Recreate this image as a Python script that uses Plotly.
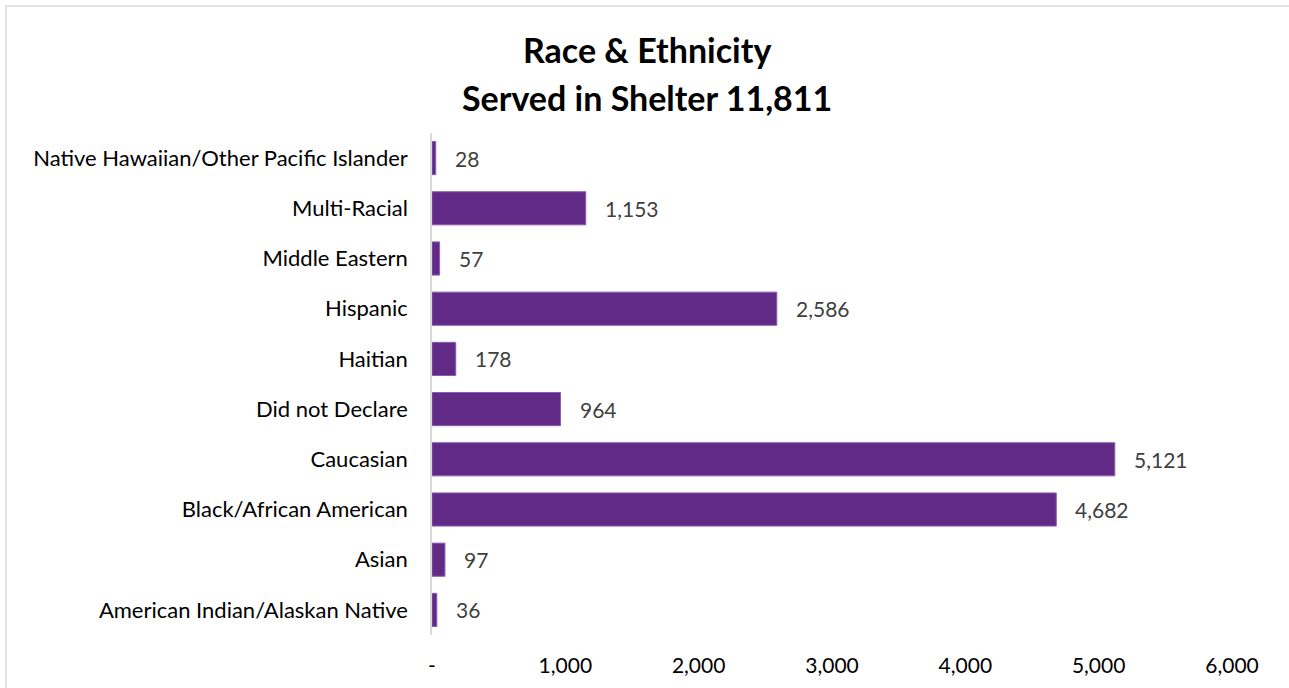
import plotly.graph_objects as go

categories = [
    "American Indian/Alaskan Native",
    "Asian",
    "Black/African American",
    "Caucasian",
    "Did not Declare",
    "Haitian",
    "Hispanic",
    "Middle Eastern",
    "Multi-Racial",
    "Native Hawaiian/Other Pacific Islander",
]
values = [36, 97, 4682, 5121, 964, 178, 2586, 57, 1153, 28]
tick_vals = [0, 1000, 2000, 3000, 4000, 5000, 6000]
tick_text = ["-", "1,000", "2,000", "3,000", "4,000", "5,000", "6,000"]
title_lines = ["Race & Ethnicity", "Served in Shelter 11,811"]

FONT = "Lato"
W, H = 1289, 688
L, R, T, B = 432, 57, 133, 53
pw, ph = W - L - R, H - T - B

def px_x(p):
    return (p - L) / pw

def px_y(p):
    return (H - B - p) / ph

fig = go.Figure(
    go.Bar(
        y=categories,
        x=values,
        orientation="h",
        marker=dict(color="#622A87", line=dict(color="#8A5CB0", width=1)),
        hoverinfo="x+y",
    )
)

for c, v in zip(categories, values):
    fig.add_annotation(
        x=v, y=c, xref="x", yref="y", text=f"{v:,}", showarrow=False,
        xanchor="left", xshift=17, font=dict(family=FONT, size=21, color="#404040"),
    )

for i, line in enumerate(title_lines):
    fig.add_annotation(
        x=px_x(647), y=px_y([50, 97][i]), xref="paper", yref="paper", text=f"<b>{line}</b>",
        showarrow=False, xanchor="center", yanchor="middle",
        font=dict(family=FONT, size=34, color="#000000"),
    )

fig.add_shape(
    type="rect", xref="paper", yref="paper",
    x0=px_x(6), x1=px_x(1320), y0=px_y(720), y1=px_y(6),
    line=dict(color="#D9D9D9", width=1.5), fillcolor="rgba(0,0,0,0)", layer="below",
)

fig.update_layout(
    width=W, height=H,
    margin=dict(l=L, r=R, t=T, b=B, autoexpand=False),
    paper_bgcolor="white", plot_bgcolor="white",
    bargap=0.34, showlegend=False,
    font=dict(family=FONT, size=21, color="#000000"),
    xaxis=dict(
        range=[0, 6000], tickvals=tick_vals, ticktext=tick_text,
        showgrid=False, zeroline=False, showline=False, ticks="",
        tickfont=dict(family=FONT, size=21, color="#000000"), ticklabelstandoff=16,
    ),
    yaxis=dict(
        showgrid=False, zeroline=False, showline=True, linecolor="#D9D9D9", linewidth=1.5,
        ticks="", ticklabelstandoff=18,
        tickfont=dict(family=FONT, size=22, color="#000000"),
        range=[-0.5, 9.5],
    ),
)

fig.write_html(
    "out.html",
    config={"displayModeBar": False},
    post_script="document.body.style.margin='0';",
)
